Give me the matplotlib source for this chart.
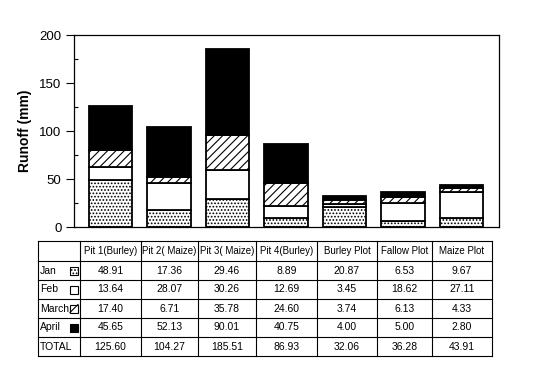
import matplotlib.pyplot as plt
import numpy as np

plt.rcParams['font.family'] = ['Liberation Sans', 'DejaVu Sans']
plt.rcParams['hatch.linewidth'] = 0.8

sites = ["Pit 1(Burley)", "Pit 2( Maize)", "Pit 3( Maize)", "Pit 4(Burley)",
         "Burley Plot", "Fallow Plot", "Maize Plot"]
months = ["Jan", "Feb", "March", "April"]
jan = [48.91, 17.36, 29.46, 8.89, 20.87, 6.53, 9.67]
feb = [13.64, 28.07, 30.26, 12.69, 3.45, 18.62, 27.11]
march = [17.40, 6.71, 35.78, 24.60, 3.74, 6.13, 4.33]
april = [45.65, 52.13, 90.01, 40.75, 4.00, 5.00, 2.80]
totals = [125.60, 104.27, 185.51, 86.93, 32.06, 36.28, 43.91]

series = [jan, feb, march, april]
styles = [dict(facecolor="white", hatch="....."),
          dict(facecolor="white", hatch=""),
          dict(facecolor="white", hatch="////"),
          dict(facecolor="black", hatch="")]

W, H = 550, 389
fig = plt.figure(figsize=(W / 100, H / 100), dpi=100)

# table drawn in pixel coordinates on a full-figure axes
tab = fig.add_axes([0, 0, 1, 1])
tab.set_xlim(0, W)
tab.set_ylim(H, 0)
tab.axis("off")

ax = fig.add_axes([74 / W, 1 - 227 / H, 425 / W, 192 / H])
x = np.arange(len(sites))
bottom = np.zeros(len(sites))
for vals, st in zip(series, styles):
    ax.bar(x, vals, 0.74, bottom=bottom, edgecolor="black", linewidth=1.3, **st)
    bottom += np.array(vals)

ax.set_xlim(-0.624, 6.64)
ax.set_ylim(0, 200)
ax.set_yticks([0, 50, 100, 150, 200])
ax.set_yticks([25, 75, 125, 175], minor=True)
ax.set_xticks([])
ax.tick_params(axis="y", which="major", direction="out", length=6, width=0.8, labelsize=9.5, pad=3)
ax.tick_params(axis="y", which="minor", direction="in", length=3, width=0.8)
for s in ax.spines.values():
    s.set_linewidth(0.9)
ax.set_ylabel("Runoff (mm)", fontsize=10, fontweight="bold", labelpad=5)

# table grid
col_edges = [38, 80, 141, 198, 256, 317, 377, 432, 492]
row_edges = [241, 261, 280, 299, 318, 337, 356]
for cx in col_edges:
    tab.plot([cx, cx], [row_edges[0], row_edges[-1]], color="black", lw=0.8)
for ry in row_edges:
    tab.plot([col_edges[0], col_edges[-1]], [ry, ry], color="black", lw=0.8)

fs = 7.5
for j, name in enumerate(sites):
    cx = (col_edges[j + 1] + col_edges[j + 2]) / 2
    cy = (row_edges[0] + row_edges[1]) / 2
    tab.text(cx, cy, name, ha="center", va="center", fontsize=7)

for i, (m, vals, st) in enumerate(zip(months, series, styles)):
    cy = (row_edges[i + 1] + row_edges[i + 2]) / 2
    tab.text(col_edges[0] + 2, cy, m, ha="left", va="center", fontsize=fs)
    diag = "/" in st["hatch"]
    patch_style = dict(st, hatch="" if diag else st["hatch"])
    tab.add_patch(plt.Rectangle((70, cy - 4), 8, 8, edgecolor="black", lw=0.8, **patch_style))
    if diag:
        tab.plot([70, 78], [cy + 4, cy - 4], color="black", lw=0.8)
    for j, v in enumerate(vals):
        cx = (col_edges[j + 1] + col_edges[j + 2]) / 2
        tab.text(cx, cy, f"{v:.2f}", ha="center", va="center", fontsize=fs)

cy = (row_edges[5] + row_edges[6]) / 2
tab.text(col_edges[0] + 2, cy, "TOTAL", ha="left", va="center", fontsize=fs)
for j, v in enumerate(totals):
    cx = (col_edges[j + 1] + col_edges[j + 2]) / 2
    tab.text(cx, cy, f"{v:.2f}", ha="center", va="center", fontsize=fs)

fig.savefig("out.png", dpi=100)
